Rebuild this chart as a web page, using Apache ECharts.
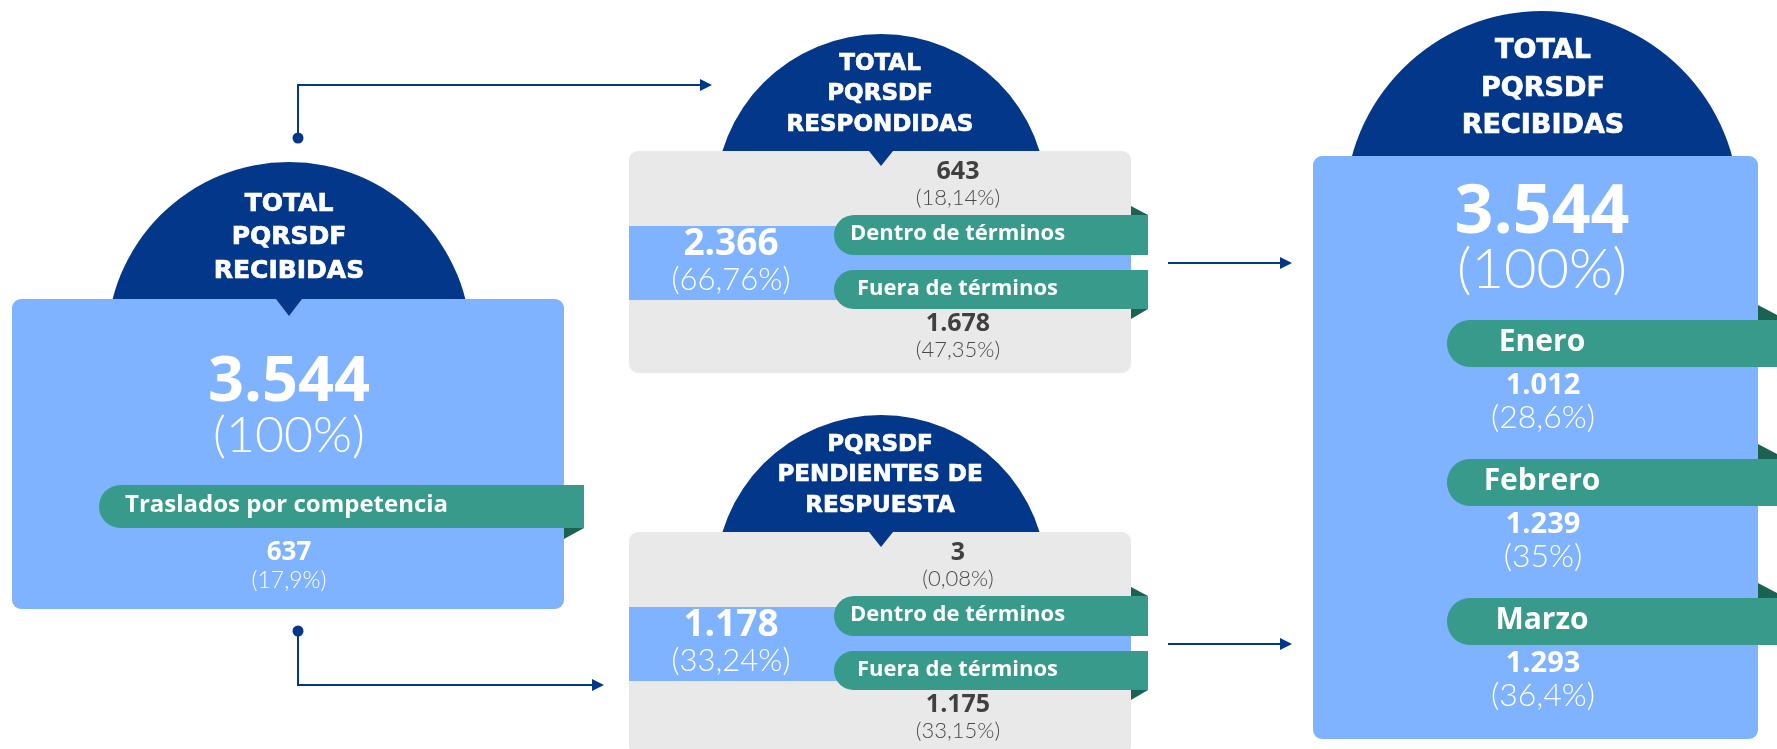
<!DOCTYPE html>
<html>
<head>
<meta charset="utf-8">
<script src="https://cdn.jsdelivr.net/npm/echarts@6/dist/echarts.min.js"></script>
<style>html,body{margin:0;padding:0;background:#fff;}#c{width:1777px;height:749px;}</style>
</head>
<body>
<div id="c"></div>
<script>
// ---- data ----
const totalRecibidas = 3544;
const totalPct = '100%';
const trasladosLabel = 'Traslados por competencia';
const traslados = 637;
const trasladosPct = '17,9%';

const respondidasTitle = ['TOTAL', 'PQRSDF', 'RESPONDIDAS'];
const respondidas = [2366, 643, 1678];          // total, dentro, fuera
const respondidasPct = ['66,76%', '18,14%', '47,35%'];

const pendientesTitle = ['PQRSDF', 'PENDIENTES DE', 'RESPUESTA'];
const pendientes = [1178, 3, 1175];            // total, dentro, fuera
const pendientesPct = ['33,24%', '0,08%', '33,15%'];

const recibidasTitle = ['TOTAL', 'PQRSDF', 'RECIBIDAS'];
const termLabels = ['Dentro de términos', 'Fuera de términos'];
const months = ['Enero', 'Febrero', 'Marzo'];
const monthValues = [1012, 1239, 1293];
const monthPct = ['28,6%', '35%', '36,4%'];

// ---- style ----
const BOLD = '"Open Sans", Lato, sans-serif';
const LIGHT = 'Lato, "Open Sans", sans-serif';
const TITLE = '"DejaVu Sans", "Open Sans", sans-serif';
const DARK = '#03378a', BLUE = '#80b3ff', GREEN = '#379a8a', FOLD = '#1b6252', GREY = '#e9e9e9';
const fmt = n => String(n).replace(/\B(?=(\d{3})+(?!\d))/g, '.');

const els = [];
let z = 1;
function txt(text, x, y, size, weight, fill, align, family) {
  const st = {text: text, fill: fill, fontSize: size, fontWeight: weight,
    fontFamily: family || (weight === 300 ? LIGHT : BOLD), align: align || 'center', verticalAlign: 'middle'};
  if (family === TITLE) { st.stroke = fill; st.lineWidth = 0.7; }
  els.push({type: 'text', z: 100, x: x, y: y, style: st});
}
function rect(x, y, w, h, r, fill) { els.push({type: 'rect', z: z++, shape: {x: x, y: y, width: w, height: h, r: r}, style: {fill: fill}}); }
function circ(cx, cy, r, fill) { els.push({type: 'circle', z: z++, shape: {cx: cx, cy: cy, r: r}, style: {fill: fill}}); }
function poly(pts, fill) { els.push({type: 'polygon', z: z++, shape: {points: pts}, style: {fill: fill}}); }
function line(pts) { els.push({type: 'polyline', z: z++, shape: {points: pts}, style: {stroke: DARK, lineWidth: 2, fill: null}}); }
function arrowHead(x, y) { poly([[x - 12, y - 6], [x, y], [x - 12, y + 6]], DARK); }

// ---- connectors ----
line([[298, 138], [298, 85], [700, 85]]); arrowHead(712, 85);
circ(298, 138, 5.5, DARK);
line([[298, 631], [298, 685], [592, 685]]); arrowHead(604, 685);
circ(298, 631, 5.5, DARK);
line([[1168, 263], [1280, 263]]); arrowHead(1292, 263);
line([[1168, 644], [1280, 644]]); arrowHead(1292, 644);

// ---- left block ----
circ(289, 344, 182, DARK);
rect(12, 299, 552, 310, 9, BLUE);
poly([[276, 299], [302, 299], [289, 316]], DARK);
recibidasTitle.forEach((t, i) => txt(t, 289, 204 + i * 33.5, 25, 'bold', '#fff', 'center', TITLE));
txt(fmt(totalRecibidas), 289, 383, 63, 'bold', '#fff');
txt('(' + totalPct + ')', 289, 436, 50, 300, '#fff');
poly([[564, 528], [584, 528], [564, 539]], FOLD);
rect(99, 485, 485, 43, [22, 0, 0, 22], GREEN);
txt(trasladosLabel, 125, 505, 24, 'bold', '#fff', 'left');
txt(fmt(traslados), 289, 553, 26, 'bold', '#fff');
txt('(' + trasladosPct + ')', 289, 581, 23, 300, '#fff');

// ---- middle blocks ----
function middle(dy, title, vals, pcts) {
  circ(881, 200 + dy, 166, DARK);
  rect(629, 151 + dy, 502, 222, 9, GREY);
  poly([[869, 151 + dy], [893, 151 + dy], [881, 166 + dy]], DARK);
  title.forEach((t, i) => txt(t, 880, 64 + dy + i * 30.3, 23, 'bold', '#fff', 'center', TITLE));
  rect(629, 226 + dy, 502, 74, 0, BLUE);
  txt(fmt(vals[0]), 731, 244 + dy, 37, 'bold', '#fff');
  txt('(' + pcts[0] + ')', 731, 280 + dy, 31, 300, '#fff');
  txt(fmt(vals[1]), 958, 172 + dy, 25, 'bold', '#404040');
  txt('(' + pcts[1] + ')', 958, 198 + dy, 22, 300, '#4a4a4a');
  poly([[1131, 206 + dy], [1148, 215 + dy], [1131, 215 + dy]], FOLD);
  rect(834, 215 + dy, 314, 40, [20, 0, 0, 20], GREEN);
  txt(termLabels[0], 850, 234 + dy, 22, 'bold', '#fff', 'left');
  poly([[1131, 309 + dy], [1148, 309 + dy], [1131, 319 + dy]], FOLD);
  rect(834, 270 + dy, 314, 39, [20, 0, 0, 20], GREEN);
  txt(termLabels[1], 857, 289 + dy, 22, 'bold', '#fff', 'left');
  txt(fmt(vals[2]), 958, 324 + dy, 25, 'bold', '#404040');
  txt('(' + pcts[2] + ')', 958, 350 + dy, 22, 300, '#4a4a4a');
}
middle(0, respondidasTitle, respondidas, respondidasPct);
middle(381, pendientesTitle, pendientes, pendientesPct);

// ---- right block ----
circ(1542, 208, 197, DARK);
rect(1313, 156, 445, 583, 9, BLUE);
recibidasTitle.forEach((t, i) => txt(t, 1543, 51 + i * 37.5, 27, 'bold', '#fff', 'center', TITLE));
txt(fmt(totalRecibidas), 1542, 214, 68, 'bold', '#fff');
txt('(' + totalPct + ')', 1542, 270, 56, 300, '#fff');
const pillTops = [320, 459, 598];
months.forEach((m, i) => {
  const t = pillTops[i];
  poly([[1758, t - 15], [1777, t - 5], [1777, t], [1758, t]], FOLD);
  rect(1447, t, 340, 47, [23, 0, 0, 23], GREEN);
  txt(m, 1542, t + 22, 30, 'bold', '#fff');
  txt(fmt(monthValues[i]), 1543, t + 66, 29, 'bold', '#fff');
  txt('(' + monthPct[i] + ')', 1543, t + 98, 32, 300, '#fff');
});

const chart = echarts.init(document.getElementById('c'), null, {renderer: 'canvas'});
chart.setOption({animation: false, graphic: {elements: els}});
</script>
</body>
</html>
